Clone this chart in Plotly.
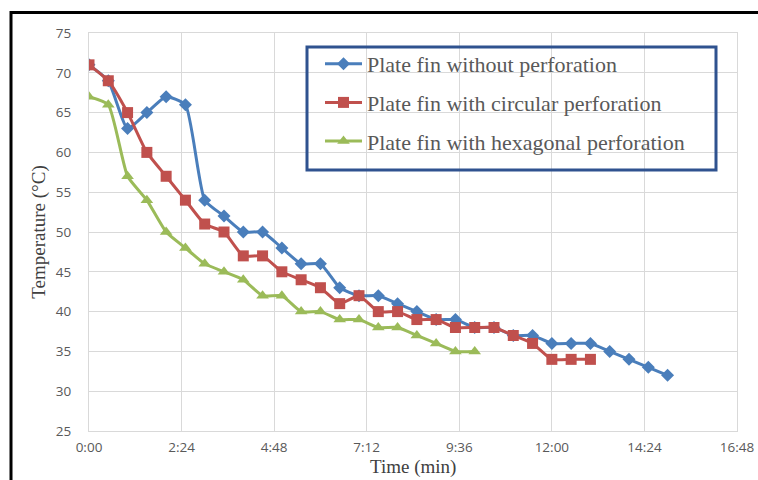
import plotly.graph_objects as go

# Time in minutes
time_blue = [0, 0.5, 1, 1.5, 2, 2.5, 3, 3.5, 4, 4.5, 5, 5.5, 6, 6.5, 7, 7.5, 8, 8.5,
             9, 9.5, 10, 10.5, 11, 11.5, 12, 12.5, 13, 13.5, 14, 14.5, 15]
temp_blue = [71, 69, 63, 65, 67, 66, 54, 52, 50, 50, 48, 46, 46, 43, 42, 42, 41, 40,
             39, 39, 38, 38, 37, 37, 36, 36, 36, 35, 34, 33, 32]

time_red = [0, 0.5, 1, 1.5, 2, 2.5, 3, 3.5, 4, 4.5, 5, 5.5, 6, 6.5, 7, 7.5, 8, 8.5,
            9, 9.5, 10, 10.5, 11, 11.5, 12, 12.5, 13]
temp_red = [71, 69, 65, 60, 57, 54, 51, 50, 47, 47, 45, 44, 43, 41, 42, 40, 40, 39,
            39, 38, 38, 38, 37, 36, 34, 34, 34]

time_green = [0, 0.5, 1, 1.5, 2, 2.5, 3, 3.5, 4, 4.5, 5, 5.5, 6, 6.5, 7, 7.5, 8, 8.5,
              9, 9.5, 10]
temp_green = [67, 66, 57, 54, 50, 48, 46, 45, 44, 42, 42, 40, 40, 39, 39, 38, 38, 37,
              36, 35, 35]

x_tick_vals = [0, 2.4, 4.8, 7.2, 9.6, 12.0, 14.4, 16.8]
x_tick_text = ["0:00", "2:24", "4:48", "7:12", "9:36", "12:00", "14:24", "16:48"]

names = ["Plate fin without perforation",
         "Plate fin with circular perforation",
         "Plate fin with hexagonal perforation"]
colors = ["#4A7EBB", "#C0504D", "#9BBB59"]
symbols = ["diamond", "square", "triangle-up"]
msizes = [10, 11, 11]

fig = go.Figure()
for i, (xs, ys) in enumerate([(time_blue, temp_blue), (time_red, temp_red),
                              (time_green, temp_green)]):
    fig.add_trace(go.Scatter(
        x=xs, y=ys, mode="lines+markers", name=names[i],
        legendgroup=f"g{i}",
        line=dict(color=colors[i], width=3, shape="spline", smoothing=0.5),
        marker=dict(symbol=symbols[i], size=msizes[i], color=colors[i]),
    ))

L, R, T, B = 89, 21, 33, 49
W, H = 758, 480
pw, ph = W - L - R, H - T - B


def px(p):
    return (p - L) / pw


def py(q):
    return (H - B - q) / ph


grid = "#D9D9D9"
tickfont = dict(family="Open Sans", size=13.5, color="#595959")

fig.update_layout(
    width=W, height=H,
    margin=dict(l=L, r=R, t=T, b=B, autoexpand=False),
    paper_bgcolor="white", plot_bgcolor="white",
    xaxis=dict(range=[0, 16.8], tickvals=x_tick_vals, ticktext=x_tick_text,
               showgrid=True, gridcolor=grid, gridwidth=1, zeroline=False,
               showline=True, linecolor=grid, linewidth=1, mirror=True,
               ticks="", tickfont=tickfont, ticklabelstandoff=4, automargin=False),
    yaxis=dict(range=[25, 75], tickvals=[25, 30, 35, 40, 45, 50, 55, 60, 65, 70, 75],
               showgrid=True, gridcolor=grid, gridwidth=1, zeroline=False,
               showline=True, linecolor=grid, linewidth=1, mirror=True,
               ticks="", tickfont=tickfont, ticklabelstandoff=14, automargin=False,
               title=dict(text="Temperature (°C)",
                          font=dict(family="Liberation Serif", size=19, color="#404040"),
                          standoff=5)),
    legend=dict(x=px(320), y=py(43), xanchor="left", yanchor="top",
                bgcolor="rgba(0,0,0,0)", borderwidth=0,
                font=dict(family="Liberation Serif", size=22, color="#595959"),
                tracegroupgap=7, itemwidth=37),
    showlegend=True,
    annotations=[
        dict(text="Time (min)", xref="paper", yref="paper", x=0.5, y=py(480),
             xanchor="center", yanchor="bottom", showarrow=False,
             font=dict(family="Liberation Serif", size=19, color="#404040")),
    ],
    shapes=[
        dict(type="rect", xref="paper", yref="paper",
             x0=px(307), x1=px(716), y0=py(170), y1=py(47),
             line=dict(color="#2F528F", width=3), layer="above"),
        dict(type="rect", xref="paper", yref="paper",
             x0=px(11), x1=px(775), y0=py(500), y1=py(12.5),
             line=dict(color="black", width=3), layer="above"),
    ],
)

fig.write_html("out.html")
